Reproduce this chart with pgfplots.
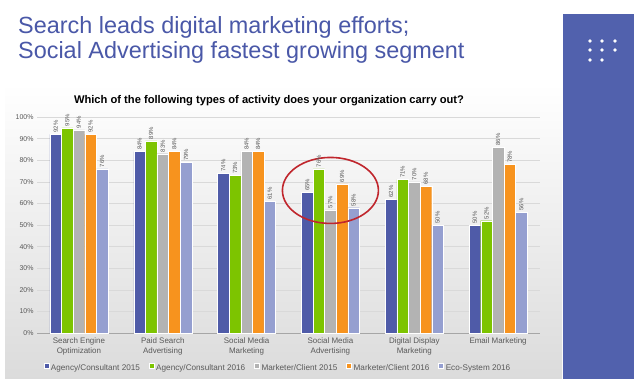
\documentclass[border=0pt]{standalone}
\usepackage{pgfplots}
\pgfplotsset{compat=1.18}
\usepackage{fontspec}
\setmainfont{Liberation Sans}
\definecolor{cA}{HTML}{4F5BA8}
\definecolor{cB}{HTML}{7DC400}
\definecolor{cC}{HTML}{B3B3B3}
\definecolor{cD}{HTML}{F7931E}
\definecolor{cE}{HTML}{959FD0}
\definecolor{panel}{HTML}{5161AD}
\definecolor{titleblue}{HTML}{4A58A8}
\definecolor{txtgray}{HTML}{595959}
\definecolor{ellred}{HTML}{C0262D}
\begin{document}
\begin{tikzpicture}[x=1bp,y=1bp]
\useasboundingbox (0,0) rectangle (634,383);
\fill[white] (0,0) rectangle (634,383);
\shade[top color=white, bottom color=black!14] (5,5) rectangle (562,300);
\fill[panel] (563,4) rectangle (634,369);
\foreach \px/\py in {590/342,602/342,615/342,590/333,602/333,615/333,590/323,602/323}
  \fill[white] (\px,\py) circle (1.9);
\node[anchor=base west, text=titleblue, font=\fontsize{23.5}{28}\selectfont, inner sep=0] at (18,350) {Search leads digital marketing efforts;};
\node[anchor=base west, text=titleblue, font=\fontsize{23.5}{28}\selectfont, inner sep=0] at (18,325) {Social Advertising fastest growing segment};
\node[anchor=base, font=\bfseries\fontsize{11.2}{13}\selectfont, inner sep=0] at (269,280) {Which of the following types of activity does your organization carry out?};
\begin{axis}[
  at={(37bp,50bp)}, anchor=south west,
  scale only axis, width=503bp, height=216bp,
  ymin=0, ymax=100, xmin=-0.5, xmax=5.5,
  enlargelimits=false, clip=false,
  ybar=0pt, bar width=11.6bp,
  /pgf/number format/assume math mode=true,
  xtick={0,1,2,3,4,5},
  xticklabels={{Search Engine\\Optimization},{Paid Search\\Advertising},{Social Media\\Marketing},{Social Media\\Advertising},{Digital Display\\Marketing},{Email Marketing}},
  xticklabel style={align=center, font=\fontsize{8}{10}\selectfont, text=txtgray, yshift=-1bp},
  ytick={0,10,...,100},
  yticklabel={\pgfmathprintnumber{\tick}\%},
  yticklabel style={font=\fontsize{7}{8}\selectfont, text=txtgray},
  major tick length=0pt,
  ymajorgrids, grid style={black!15, line width=0.6bp},
  axis x line*=bottom, axis y line*=left,
  x axis line style={black!35, line width=0.6bp},
  y axis line style={draw=none},
  nodes near coords={\pgfmathprintnumber{\pgfplotspointmeta}\%},
  every node near coord/.append style={rotate=90, anchor=west, font=\fontsize{6}{7}\selectfont, text=txtgray, inner sep=1.5bp},
  legend columns=5,
  legend style={at={(0.479,-0.162)}, anchor=center, draw=none, fill=none, font=\fontsize{8.2}{9}\selectfont, text=txtgray, inner sep=0pt,
    /tikz/every even column/.append style={column sep=7bp}},
  legend image code/.code={\fill[#1] (0bp,-0.5bp) rectangle (5bp,4.5bp);},
]
\addplot[fill=cA, draw=white, line width=0.3bp] coordinates {(0,92) (1,84) (2,74) (3,65) (4,62) (5,50)};
\addplot[fill=cB, draw=white, line width=0.3bp] coordinates {(0,95) (1,89) (2,73) (3,76) (4,71) (5,52)};
\addplot[fill=cC, draw=white, line width=0.3bp] coordinates {(0,94) (1,83) (2,84) (3,57) (4,70) (5,86)};
\addplot[fill=cD, draw=white, line width=0.3bp] coordinates {(0,92) (1,84) (2,84) (3,69) (4,68) (5,78)};
\addplot[fill=cE, draw=white, line width=0.3bp] coordinates {(0,76) (1,79) (2,61) (3,58) (4,50) (5,56)};
\legend{Agency/Consultant 2015,Agency/Consultant 2016,Marketer/Client 2015,Marketer/Client 2016,Eco-System 2016}
\draw[ellred, line width=1.6bp] (axis cs:3,66) ellipse [x radius=48bp, y radius=33bp];
\end{axis}
\end{tikzpicture}
\end{document}
